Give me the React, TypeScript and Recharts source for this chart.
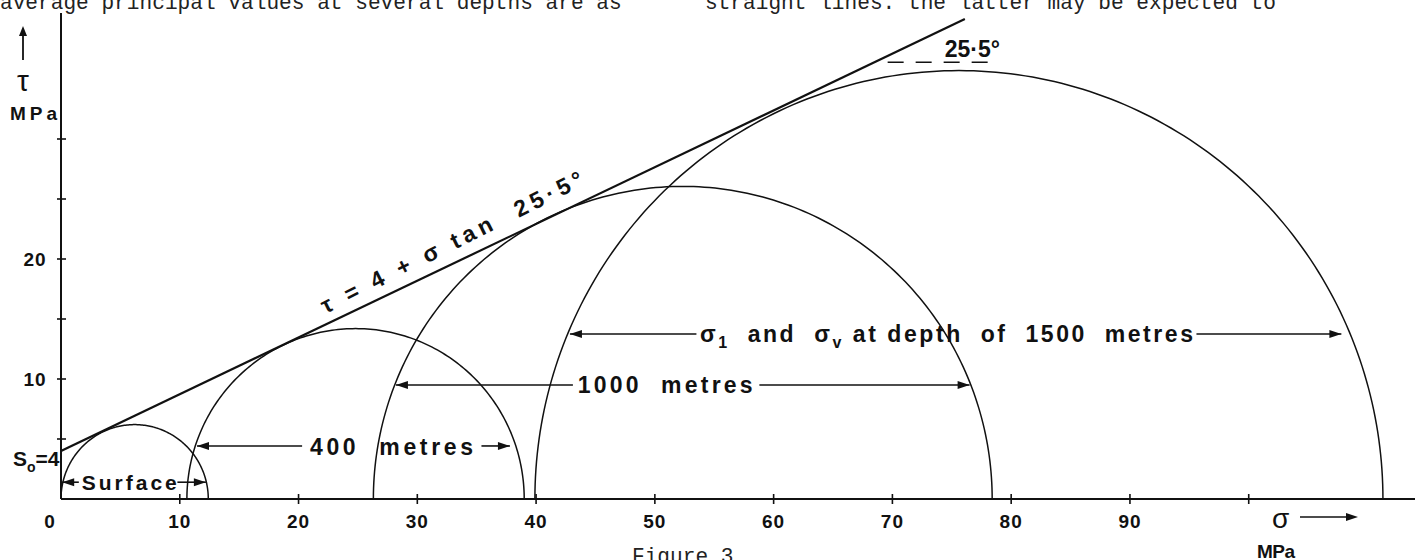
import { ComposedChart, Line, XAxis, YAxis, ReferenceLine, ReferenceDot } from "recharts";

// Mohr circles (MPa)
const DEPTHS = ["Surface", "400 metres", "1000 metres", "1500 metres"];
const SIGMA_3 = [0, 10.6, 26.3, 39.9];
const SIGMA_1 = [12.4, 39.0, 78.4, 111.3];

// failure envelope  tau = 4 + sigma tan 25.5deg, end points as drawn
const ENVELOPE_SIGMA = [0, 76.1];
const ENVELOPE_TAU = [4, 40.0];

const X_TICKS = [0, 10, 20, 30, 40, 50, 60, 70, 80, 90, 100];
const X_LABELS = ["0", "10", "20", "30", "40", "50", "60", "70", "80", "90", ""];
const Y_TICKS = [5, 10, 15, 20, 25, 30];
const Y_LABELS = ["", "10", "", "20", "", ""];

const INK = "#111";
const SANS = '"Liberation Sans", Arial, sans-serif';
const MONO = '"Liberation Mono", "Courier New", monospace';

// each circle is the semicircle on [sigma3, sigma1]
const circles = DEPTHS.map((name, i) => {
  const c = (SIGMA_3[i] + SIGMA_1[i]) / 2;
  const r = (SIGMA_1[i] - SIGMA_3[i]) / 2;
  const pts: { s: number; t: number }[] = [];
  for (let a = 0; a <= 180; a += 1) {
    const rad = (a * Math.PI) / 180;
    pts.push({ s: c - r * Math.cos(rad), t: r * Math.sin(rad) });
  }
  return { name, pts };
});

const envelope = ENVELOPE_SIGMA.map((s, i) => ({ s, t: ENVELOPE_TAU[i] }));

function head(x: number, y: number, dir: number) {
  const L = 12;
  const W = 4;
  return (
    <polygon
      points={`${x},${y} ${x - dir * L},${y - W} ${x - dir * L},${y + W}`}
      fill={INK}
    />
  );
}

const arrowShape = (tip: "start" | "end") => (p: any) => (
  <g>
    <line x1={p.x1} y1={p.y1} x2={p.x2} y2={p.y2} stroke={INK} strokeWidth={1.6} />
    {tip === "start" ? head(p.x1, p.y1, -1) : head(p.x2, p.y2, 1)}
  </g>
);

const XTick = (props: any) => {
  const { x, y, payload } = props;
  const label = X_LABELS[X_TICKS.indexOf(payload.value)];
  return (
    <g>
      {payload.value > 0 && (
        <line x1={x} x2={x} y1={y - 5} y2={y + 5} stroke={INK} strokeWidth={1.6} />
      )}
      {label && (
        <text
          x={payload.value === 0 ? x - 11 : x}
          y={y + 29}
          textAnchor="middle"
          fontFamily={SANS}
          fontWeight="bold"
          fontSize={19}
          letterSpacing={1}
          fill={INK}
        >
          {label}
        </text>
      )}
    </g>
  );
};

const YTick = (props: any) => {
  const { x, y, payload } = props;
  const label = Y_LABELS[Y_TICKS.indexOf(payload.value)];
  return (
    <g>
      <line x1={x - 4} x2={x + 5} y1={y} y2={y} stroke={INK} strokeWidth={1.6} />
      {label && (
        <text
          x={x - 26}
          y={y + 7}
          textAnchor="middle"
          fontFamily={SANS}
          fontWeight="bold"
          fontSize={19}
          letterSpacing={1}
          fill={INK}
        >
          {label}
        </text>
      )}
    </g>
  );
};

const label = (text: string, size: number, width?: number) => (p: any) => (
  <text
    x={p.cx}
    y={p.cy}
    fontFamily={SANS}
    fontWeight="bold"
    fontSize={size}
    fill={INK}
    style={{ whiteSpace: "pre" }}
    textLength={width}
    lengthAdjust="spacing"
  >
    {text}
  </text>
);

const deepLabel = (p: any) => (
  <text
    x={p.cx}
    y={p.cy}
    fontFamily={SANS}
    fontWeight="bold"
    fontSize={23}
    fill={INK}
    style={{ whiteSpace: "pre" }}
    textLength={493}
    lengthAdjust="spacing"
  >
    σ<tspan dy={6} fontSize={16}>1</tspan>
    <tspan dy={-6}>  and  σ</tspan>
    <tspan dy={6} fontSize={16}>v</tspan>
    <tspan dy={-6}> at depth  of  1500  metres</tspan>
  </text>
);

const equation = (p: any) => (
  <text
    x={p.cx}
    y={p.cy + 8}
    transform={`rotate(-26.5 ${p.cx} ${p.cy})`}
    textAnchor="middle"
    fontFamily={SANS}
    fontWeight="bold"
    fontSize={23}
    fill={INK}
    style={{ whiteSpace: "pre" }}
    textLength={290}
    lengthAdjust="spacing"
  >
    τ = 4 + σ tan  25·5°
  </text>
);

export default function App() {
  return (
    <div style={{ position: "absolute", left: 0, top: 0, width: 1415, height: 560, background: "#fff" }}>
      <ComposedChart width={1415} height={560} margin={{ top: 13, right: 0, bottom: 0, left: 0 }}>
        <XAxis
          type="number"
          dataKey="s"
          domain={[0, 114]}
          ticks={X_TICKS}
          interval={0}
          allowDataOverflow
          height={61}
          tickLine={false}
          tickSize={0}
          tickMargin={0}
          axisLine={{ stroke: INK, strokeWidth: 2 }}
          tick={XTick}
        />
        <YAxis
          type="number"
          dataKey="t"
          domain={[0, 40.5]}
          ticks={Y_TICKS}
          interval={0}
          allowDataOverflow
          width={61}
          tickLine={false}
          tickSize={0}
          tickMargin={0}
          axisLine={{ stroke: INK, strokeWidth: 2 }}
          tick={YTick}
        />
        {circles.map((c) => (
          <Line
            key={c.name}
            data={c.pts}
            dataKey="t"
            type="linear"
            stroke={INK}
            strokeWidth={1.5}
            dot={false}
            activeDot={false}
            isAnimationActive={false}
          />
        ))}
        <Line
          data={envelope}
          dataKey="t"
          type="linear"
          stroke={INK}
          strokeWidth={2.2}
          dot={false}
          activeDot={false}
          isAnimationActive={false}
        />

        {/* Surface */}
        <ReferenceLine segment={[{ x: 0.1, y: 1.4 }, { x: 1.5, y: 1.4 }]} shape={arrowShape("start")} />
        <ReferenceDot x={1.75} y={0.75} r={0} shape={label("Surface", 21, 95)} />
        <ReferenceLine segment={[{ x: 9.8, y: 1.4 }, { x: 12.2, y: 1.4 }]} shape={arrowShape("end")} />

        {/* 400 metres */}
        <ReferenceLine segment={[{ x: 11.45, y: 4.42 }, { x: 20.3, y: 4.42 }]} shape={arrowShape("start")} />
        <ReferenceDot x={20.96} y={3.7} r={0} shape={label("400  metres", 23, 163)} />
        <ReferenceLine segment={[{ x: 35.4, y: 4.42 }, { x: 37.8, y: 4.42 }]} shape={arrowShape("end")} />

        {/* 1000 metres */}
        <ReferenceLine segment={[{ x: 28.2, y: 9.5 }, { x: 43.1, y: 9.5 }]} shape={arrowShape("start")} />
        <ReferenceDot x={43.5} y={8.8} r={0} shape={label("1000  metres", 23, 175)} />
        <ReferenceLine segment={[{ x: 58.8, y: 9.5 }, { x: 76.5, y: 9.5 }]} shape={arrowShape("end")} />

        {/* 1500 metres */}
        <ReferenceLine segment={[{ x: 42.85, y: 13.75 }, { x: 53.5, y: 13.75 }]} shape={arrowShape("start")} />
        <ReferenceDot x={53.8} y={13.1} r={0} shape={deepLabel} />
        <ReferenceLine segment={[{ x: 95.6, y: 13.75 }, { x: 107.8, y: 13.75 }]} shape={arrowShape("end")} />

        {/* envelope equation and angle */}
        <ReferenceDot x={32.9} y={21.4} r={0} shape={equation} />
        <ReferenceDot x={74.4} y={36.83} r={0} shape={label("25·5°", 23)} />
        <ReferenceLine
          segment={[{ x: 69.6, y: 36.4 }, { x: 78.9, y: 36.4 }]}
          stroke={INK}
          strokeWidth={1.6}
          strokeDasharray="16 12"
        />
      </ComposedChart>

      <svg
        width={1415}
        height={560}
        style={{ position: "absolute", left: 0, top: 0, pointerEvents: "none" }}
      >
        {/* page text clipped by the figure crop, as in the scan */}
        <text x={0} y={9} fontFamily={MONO} fontSize={21.15} fill="#222">
          average principal values at several depths are as
        </text>
        <text x={705} y={9} fontFamily={MONO} fontSize={21.15} fill="#222">
          straight lines. the latter may be expected to
        </text>
        <text x={632} y={563} fontFamily={MONO} fontSize={21.15} fill="#222">
          Figure 3
        </text>

        {/* tau axis title */}
        <line x1={23} y1={60} x2={23} y2={32} stroke={INK} strokeWidth={1.8} />
        <polygon points="23,26 19,36 27,36" fill={INK} />
        <text x={23} y={91} textAnchor="middle" fontFamily={SANS} fontSize={30} fill={INK}>
          τ
        </text>
        <text x={10} y={120} fontFamily={SANS} fontWeight="bold" fontSize={19} fill={INK} textLength={47} lengthAdjust="spacing">
          MPa
        </text>
        <text x={13} y={466} fontFamily={SANS} fontWeight="bold" fontSize={21} fill={INK}>
          S<tspan dy={6} fontSize={14}>o</tspan>
          <tspan dy={-6}>=4</tspan>
        </text>

        {/* sigma axis title */}
        <text x={1272} y={528} fontFamily={SANS} fontSize={28} fill={INK}>
          σ
        </text>
        <line x1={1300} y1={517} x2={1348} y2={517} stroke={INK} strokeWidth={1.6} />
        <polygon points="1358,517 1346,513 1346,521" fill={INK} />
        <text x={1257} y={558} fontFamily={SANS} fontWeight="bold" fontSize={19} fill={INK} textLength={38} lengthAdjust="spacing">
          MPa
        </text>
      </svg>
    </div>
  );
}
